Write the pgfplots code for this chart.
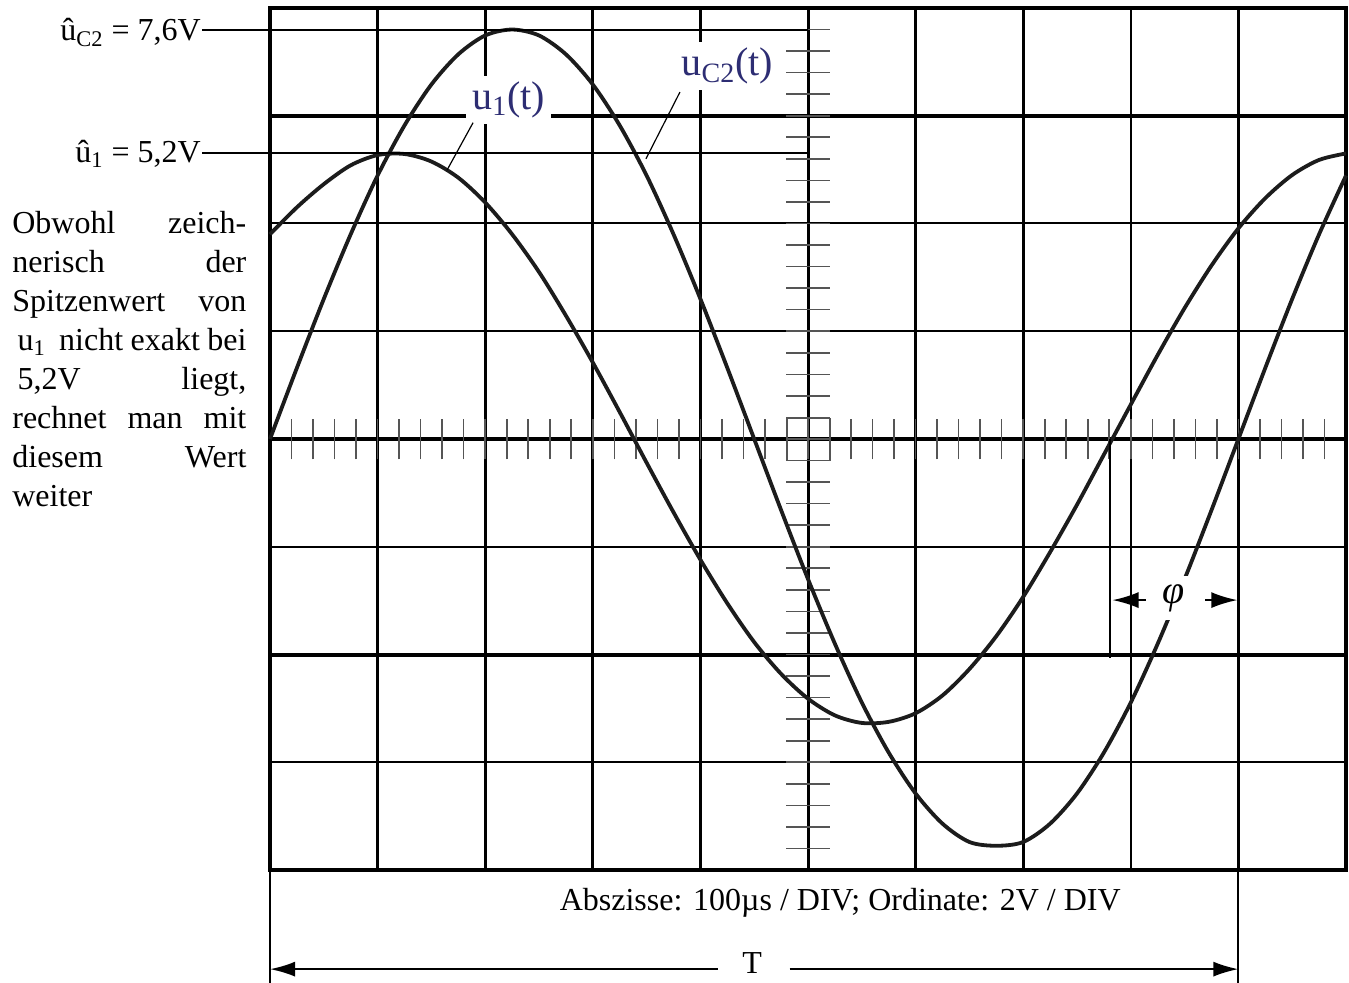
\documentclass[border=0pt]{standalone}
\usepackage{pgfplots}
\pgfplotsset{compat=1.18}
\usetikzlibrary{arrows.meta}
\usepackage{fontspec}
\setmainfont{Liberation Serif}
\definecolor{navy}{RGB}{45,45,115}
\definecolor{curve}{RGB}{28,28,28}
\definecolor{tickc}{RGB}{85,85,85}
\begin{document}
\begin{tikzpicture}
\path[use as bounding box] (0,0) rectangle (674.5pt,491pt);
\begin{axis}[
  at={(135pt,56pt)}, anchor=south west,
  scale only axis, width=538pt, height=431pt,
  xmin=0, xmax=1000, ymin=-8, ymax=8,
  hide axis, clip=false,
]
% graticule
\pgfplotsinvokeforeach{100,200,300,400,500,600,700,900}{\draw[line width=1.5pt] (axis cs:#1,-8) -- (axis cs:#1,8);}
\draw[line width=1.1pt] (axis cs:800,-8) -- (axis cs:800,8);
\pgfplotsinvokeforeach{-6,-2,2,4}{\draw[line width=1pt] (axis cs:0,#1) -- (axis cs:1000,#1);}
\pgfplotsinvokeforeach{-4,0,6}{\draw[line width=2pt] (axis cs:0,#1) -- (axis cs:1000,#1);}
\draw[line width=2pt] (axis cs:0,-8) rectangle (axis cs:1000,8);
% centre ticks
\pgfplotsinvokeforeach{20,40,...,980}{\draw[tickc, line width=0.8pt] (axis cs:#1,-0.38) -- (axis cs:#1,0.38);}
\pgfplotsinvokeforeach{-7.6,-7.2,...,7.7}{\draw[tickc, line width=0.8pt] (axis cs:480,#1) -- (axis cs:520.5,#1);}
\draw[tickc, line width=0.8pt] (axis cs:480.5,-0.4) rectangle (axis cs:520.4,0.38);
% curves
\addplot[curve, line width=1.9pt, smooth] coordinates {
(0,0) (25,1.32) (50,2.60) (75,3.80) (100,4.89) (125,5.82) (150,6.58) (175,7.14) (200,7.49) (225,7.60)
(250,7.49) (275,7.14) (300,6.58) (325,5.82) (350,4.89) (375,3.80) (400,2.60) (425,1.32) (450,0)
(475,-1.32) (500,-2.60) (525,-3.80) (550,-4.89) (575,-5.82) (600,-6.58) (625,-7.14) (650,-7.48) (675,-7.55)
(700,-7.48) (725,-7.14) (750,-6.58) (775,-5.82) (800,-4.89) (825,-3.80) (850,-2.60) (875,-1.32) (900,0)
(925,1.32) (950,2.60) (975,3.80) (1000,4.89)};
\addplot[curve, line width=1.9pt, smooth] coordinates {
(0,3.80) (25,4.30) (50,4.73) (75,5.08) (100,5.27) (125,5.29) (150,5.15) (175,4.85) (200,4.39) (225,3.80)
(250,3.10) (275,2.29) (300,1.42) (325,0.50) (350,-0.44) (375,-1.36) (400,-2.24) (425,-3.05) (450,-3.77)
(475,-4.36) (500,-4.82) (525,-5.13) (550,-5.27) (575,-5.25) (600,-5.09) (625,-4.76) (650,-4.27) (675,-3.66)
(700,-2.93) (725,-2.10) (750,-1.22) (775,-0.29) (800,0.64) (825,1.56) (850,2.43) (875,3.22) (900,3.91)
(925,4.47) (950,4.90) (975,5.18) (1000,5.30)};
% peak lines and labels
\draw[line width=1pt] (axis cs:-63,7.6) -- (axis cs:500,7.6);
\draw[line width=1pt] (axis cs:-63,5.3) -- (axis cs:500,5.3);
\node[anchor=base east, inner sep=0] at (axis cs:-64,7.39) {\fontsize{16}{19}\selectfont û\textsubscript{C2} = 7,6V};
\node[anchor=base east, inner sep=0] at (axis cs:-64,5.14) {\fontsize{16}{19}\selectfont û\textsubscript{1} = 5,2V};
% curve labels
\node[fill=white, text=navy, inner sep=3pt] at (axis cs:222,6.29) {\fontsize{20}{24}\selectfont u\textsubscript{1}(t)};
\node[fill=white, text=navy, inner sep=3pt] at (axis cs:425,6.92) {\fontsize{20}{24}\selectfont u\textsubscript{C2}(t)};
\draw[line width=0.6pt] (axis cs:188.7,5.87) -- (axis cs:164.5,4.99);
\draw[line width=0.6pt] (axis cs:381,6.44) -- (axis cs:349.4,5.20);
% side text
\node[anchor=north west, inner sep=0] at (axis cs:-239.8,4.23) {\parbox[t]{117pt}{\fontsize{16}{19.5}\selectfont
\hbox to 117pt{Obwohl\hfill zeich-}
\hbox to 117pt{nerisch\hfill der}
\hbox to 117pt{Spitzenwert\hfill von}
\hbox to 117pt{\,u\textsubscript{1}\, nicht\hfill exakt\hfill bei}
\hbox to 117pt{\,5,2V\hfill liegt,}
\hbox to 117pt{rechnet\hfill man\hfill mit}
\hbox to 117pt{diesem\hfill Wert}
\hbox to 117pt{weiter\hfill}}};
% phase
\draw[line width=1pt] (axis cs:780.7,0) -- (axis cs:780.7,-4.06);
\node[fill=white, inner sep=4pt] at (axis cs:840,-2.95) {\fontsize{20}{22}\selectfont\itshape φ};
\draw[line width=1pt, -{Latex[length=13pt,width=8pt]}] (axis cs:814,-2.99) -- (axis cs:783,-2.99);
\draw[line width=1pt, -{Latex[length=13pt,width=8pt]}] (axis cs:869,-2.99) -- (axis cs:899,-2.99);
% bottom
\draw[line width=1pt] (axis cs:0,-8) -- (axis cs:0,-10.2);
\draw[line width=1pt] (axis cs:900,-8) -- (axis cs:900,-10.2);
\node[anchor=base] at (axis cs:530,-8.76) {\fontsize{16}{19}\selectfont Abszisse: 100µs / DIV; Ordinate: 2V / DIV};
\draw[line width=1pt, -{Latex[length=12.5pt,width=7.5pt]}] (axis cs:416,-9.84) -- (axis cs:0,-9.84);
\draw[line width=1pt, -{Latex[length=12.5pt,width=7.5pt]}] (axis cs:483,-9.84) -- (axis cs:900,-9.84);
\node[anchor=base] at (axis cs:448,-9.93) {\fontsize{16}{19}\selectfont T};
\end{axis}
\end{tikzpicture}
\end{document}
